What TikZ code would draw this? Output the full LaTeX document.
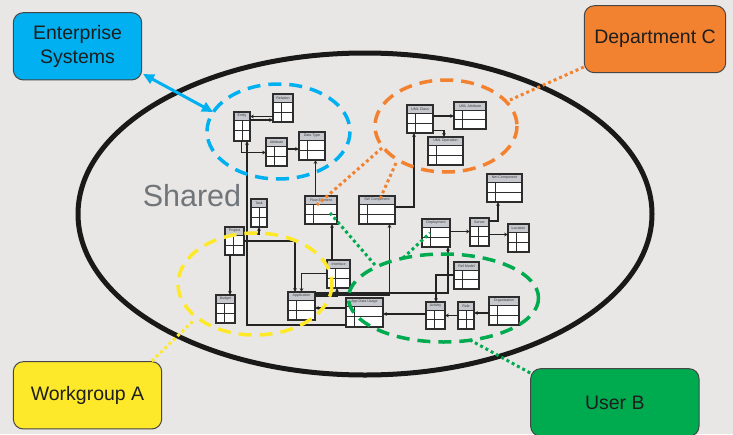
\documentclass[tikz,border=0pt]{standalone}
\usepackage{fontspec}
\setmainfont{Liberation Sans}
\usetikzlibrary{arrows.meta}

\definecolor{bg}{RGB}{233,231,229}
\definecolor{ellc}{RGB}{25,25,25}
\definecolor{cyanc}{RGB}{0,176,240}
\definecolor{orangec}{RGB}{242,130,48}
\definecolor{yellowc}{RGB}{253,233,42}
\definecolor{greenc}{RGB}{0,170,79}
\definecolor{hdr}{RGB}{198,200,205}
\definecolor{tblc}{RGB}{45,45,45}
\definecolor{titlec}{RGB}{60,60,60}
\definecolor{lnc}{RGB}{35,35,35}
\definecolor{sharedc}{RGB}{112,117,122}
\definecolor{boxedge}{RGB}{70,70,70}
\definecolor{boxtext}{RGB}{30,30,30}

\tikzset{
  tblbox/.style={fill=white, draw=none, inner sep=0pt, outer sep=0pt},
  tblgrid/.style={draw=tblc, line width=0.9pt},
  tblframe/.style={draw=tblc, line width=1.2pt},
  tbltitle/.style={font=\fontsize{3.6}{4}\selectfont, text=titlec, inner sep=0pt},
  conn/.style={draw=lnc, line width=1.2pt, -{Stealth[length=3.8pt,width=3.6pt]}},
  grp/.style={line width=3.5pt, dash pattern=on 13pt off 8pt},
  dotl/.style={line width=3pt, dash pattern=on 3pt off 3pt},
  bigbox/.style={draw=boxedge, line width=1pt, rounded corners=10pt, text=boxtext,
    font=\fontsize{19.5}{24.3}\selectfont, align=center, inner sep=0pt},
}

% name, x1, y1, x2, y2, title
\newcommand\dbtable[6]{%
  \pgfmathsetmacro\dbw{#4-#2}%
  \pgfmathsetmacro\dbh{#5-#3}%
  \pgfmathsetmacro\dbm{(#3+8+#5)/2}%
  \node[tblbox, minimum width=\dbw pt, minimum height=\dbh pt, anchor=north west] (#1) at (#2,#3) {};
  \fill[hdr] (#2,#3) rectangle (#4,#3+8);
  \draw[tblgrid] (#2,#3+8) -- (#4,#3+8);
  \draw[tblgrid] (#2,\dbm) -- (#4,\dbm);
  \draw[tblgrid] (#2+8,#3+8) -- (#2+8,#5);
  \node[tbltitle] (#1-t) at ({(#2+#4)/2},#3+4) {#6};
  \draw[tblframe] (#1.north west) rectangle (#1.south east);
}

\begin{document}
\begin{tikzpicture}[x=1pt,y=-1pt]
\useasboundingbox (0,0) rectangle (733,434);
\fill[bg] (0,0) rectangle (733,434);

% shared ellipse
\draw[ellc, line width=5pt] (365,214) ellipse [x radius=287, y radius=161];
\node[text=sharedc, font=\fontsize{30.5}{36}\selectfont, inner sep=0pt, anchor=base] (shared) at (192,206.7) {Shared};

% tables
\dbtable{Relation}{273}{94}{293}{122}{Relation}
\dbtable{Entity}{234}{112}{250}{141}{Entity}
\dbtable{Attribute}{266}{138}{287}{166}{Attribute}
\dbtable{DataType}{299}{132}{325}{160}{Data Type}
\dbtable{UMLClass}{407}{105}{433}{133}{UML Class}
\dbtable{UMLAttr}{454}{102}{486}{129}{UML Attribute}
\dbtable{UMLOp}{428}{137}{463}{165}{UML Operation}
\dbtable{NetComp}{487}{174}{522}{202}{Net Component}
\dbtable{Task}{251}{199}{267}{227}{Task}
\dbtable{Project}{225}{227}{244}{255}{Project}
\dbtable{FlowEl}{305}{196}{337}{224}{Flow Element}
\dbtable{SWComp}{359}{196}{395}{224}{SW Component}
\dbtable{Interface}{327}{260}{350}{288}{Interface}
\dbtable{Budget}{216}{295}{235}{323}{Budget}
\dbtable{Application}{288}{292}{315}{320}{Application}
\dbtable{AppData}{346}{298}{383}{327}{App Data Usage}
\dbtable{Deployment}{422}{219}{450}{247}{Deployment}
\dbtable{Server}{470}{218}{489}{246}{Server}
\dbtable{Location}{508}{224}{529}{252}{Location}
\dbtable{RefModel}{454}{262}{479}{289}{Ref Model}
\dbtable{Activity}{426}{302}{445}{329}{Activity}
\dbtable{Role}{458}{302}{474}{329}{Role}
\dbtable{Org}{489}{297}{519}{325}{Organization}

% connectors
\draw[conn] (Relation.west |- 0,116.5) -- (Entity.east |- 0,116.5);
\draw[conn] (Entity.east |- 0,120) -- (Relation.west |- 0,120);
\draw[conn] (241.5,0 |- Entity.south) |- (Attribute.west |- 0,152.5);
\draw[conn] (Attribute.east |- 0,149) -- (DataType.west |- 0,149);
\draw[conn] (315.5,0 |- FlowEl.north) -- (315.5,0 |- DataType.south);
\draw[conn] (AppData.west |- 0,325) -| (247,0 |- Entity.south);
\draw[conn] (Project.east |- 0,234) -| (259,0 |- Task.south);
\draw[conn] (Project.east |- 0,241) -| (295,0 |- Application.north);
\draw[conn] (230,0 |- Project.south) -- (230,0 |- Budget.north);
\draw[conn] (Interface.west |- 0,273.5) -| (301.5,0 |- Application.north);
\draw[conn] (332,0 |- Interface.north) -- (332,0 |- FlowEl.south);
\draw[conn] (Application.east |- 0,296.5) -| (337,0 |- Interface.south);
\draw[conn] (Application.east |- 0,295) -| (389.5,0 |- SWComp.south);
\draw[conn] (Application.east |- 0,293) -| (448,0 |- Deployment.south);
\draw[conn] (AppData.west |- 0,308) -- (Application.east |- 0,308);
\draw[conn] (SWComp.east |- 0,207) -| (414,0 |- UMLClass.south);
\draw[conn] (UMLClass.east |- 0,116) -- (UMLAttr.west |- 0,116);
\draw[conn] (UMLClass.east |- 0,130.5) -| (444,0 |- UMLOp.north);
\draw[conn] (Deployment.east |- 0,231.5) -- (Server.west |- 0,231.5);
\draw[conn] (Server.east |- 0,234.5) -- (Location.west |- 0,234.5);
\draw[conn] (Server.east |- 0,221) -| (498,0 |- NetComp.south);
\draw[conn] (RefModel.west |- 0,275) -| (436,0 |- Activity.north);
\draw[conn] (Activity.west |- 0,314) -- (AppData.east |- 0,314);
\draw[conn] (Role.west |- 0,315.5) -- (Activity.east |- 0,315.5);
\draw[conn] (Org.west |- 0,313) -- (Role.east |- 0,313);

% group ellipses
\draw[grp, cyanc] (278.5,131.5) ellipse [x radius=71.5, y radius=47.5];
\draw[grp, orangec] (446,126) ellipse [x radius=71, y radius=46];
\draw[grp, yellowc] (255,284) ellipse [x radius=77, y radius=51];
\draw[grp, greenc] (443.5,298) ellipse [x radius=95, y radius=44];

% outer boxes
\node[bigbox, fill=cyanc, minimum width=128.4pt, minimum height=67.3pt] (Ent) at (77.5,46.3) {Enterprise\\Systems};
\node[bigbox, fill=orangec, minimum width=141.4pt, minimum height=67pt] (Dept) at (655,39.2) {Department C};
\node[bigbox, fill=yellowc, minimum width=148.4pt, minimum height=67.3pt] (Work) at (87.5,395.3) {Workgroup A};
\node[bigbox, fill=greenc, minimum width=168.3pt, minimum height=67.6pt] (UserB) at (614.85,402.5) {User B};

% dotted links
\coordinate (oE) at (510,100);
\coordinate (oA) at (382,148);
\coordinate (oB) at (396,163);
\coordinate (gE) at (470,340);
\coordinate (gA) at (375,265);
\coordinate (gB) at (403,258);
\coordinate (yE) at (193,321);
\coordinate (fT) at (317,205);
\coordinate (sT) at (380,199);
\coordinate (fG) at (330,213);
\coordinate (dG) at (430,233);
\draw[dotl, orangec] (Dept.south west |- 0,67) -- (oE);
\draw[dotl, orangec] (oA) -- (fT);
\draw[dotl, orangec] (oB) -- (sT);
\draw[dotl, greenc] (UserB.north west |- 0,373) -- (gE);
\draw[dotl, greenc] (gA) -- (fG);
\draw[dotl, greenc] (gB) -- (dG);
\draw[dotl, yellowc] (151.7,0 |- Work.north) -- (yE);

% enterprise arrow
\coordinate (bS) at (143,74);
\coordinate (bE) at (213,112);
\draw[cyanc, line width=3pt, {Triangle[length=11pt,width=10pt]}-{Triangle[length=11pt,width=10pt]}] (bS) -- (bE);
\end{tikzpicture}
\end{document}
